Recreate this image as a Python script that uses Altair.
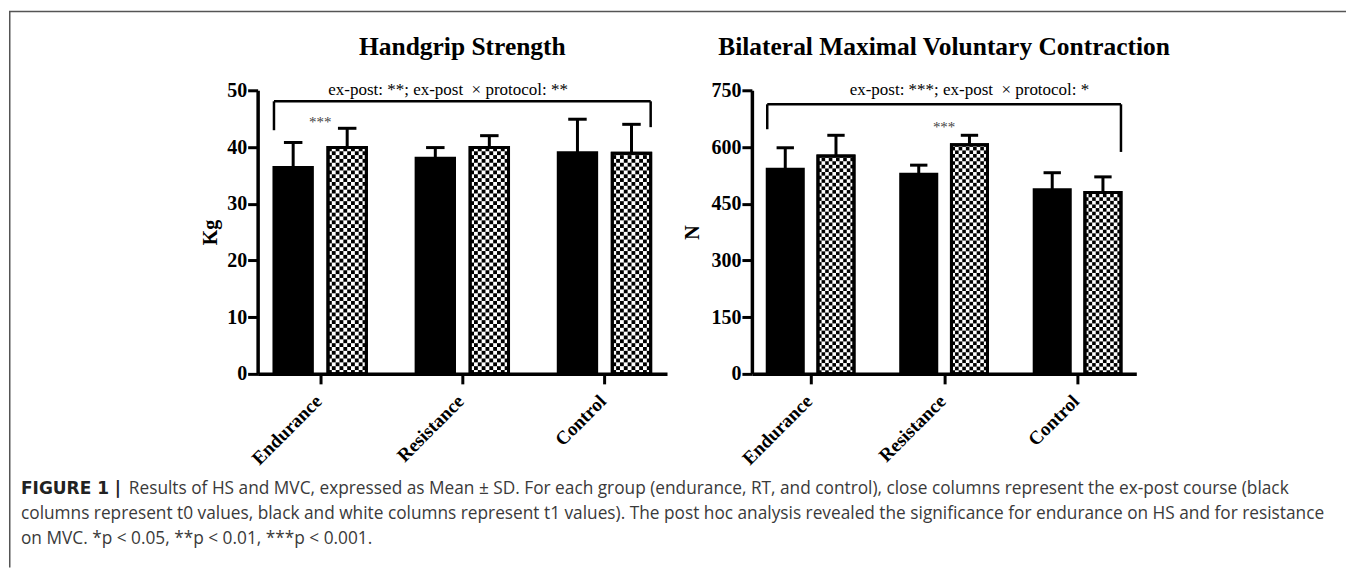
import json
import altair as alt
import pandas as pd

# ---------------- data ----------------
categories = ["Endurance", "Resistance", "Control"]
times = ["t0", "t1"]

hs_t0_mean = [36.4, 38.0, 39.0]
hs_t0_sd = [4.4, 1.9, 5.9]
hs_t1_mean = [39.9, 39.9, 38.9]
hs_t1_sd = [3.4, 2.1, 5.1]

mvc_t0_mean = [541, 528, 487]
mvc_t0_sd = [57, 24, 45]
mvc_t1_mean = [576, 606, 480]
mvc_t1_sd = [55, 25, 41]

hs_title = "Handgrip Strength"
mvc_title = "Bilateral Maximal Voluntary Contraction"
hs_ylabel = "Kg"
mvc_ylabel = "N"
hs_yticks = [0, 10, 20, 30, 40, 50]
mvc_yticks = [0, 150, 300, 450, 600, 750]

hs_note = "ex-post: **; ex-post\u00a0 \u00d7 protocol: **"
mvc_note = "ex-post: ***; ex-post\u00a0 \u00d7 protocol: *"
hs_note_pos = [0.9, 49.1]
mvc_note_pos = [1.19, 737]
# bracket: top level, left foot, right foot
hs_bracket = [48.06, 42.96, 43.5]
mvc_bracket = [713, 647, 587]
hs_star = ["***", "Endurance", 44.4]
mvc_star = ["***", "Resistance", 653]

caption_bold = "FIGURE 1 |"
caption_lines = [
    "Results of HS and MVC, expressed as Mean \u00b1 SD. For each group (endurance, RT, and control), close columns represent the ex-post course (black",
    "columns represent t0 values, black and white columns represent t1 values). The post hoc analysis revealed the significance for endurance on HS and for resistance",
    "on MVC. *p < 0.05, **p < 0.01, ***p < 0.001.",
]

# ---------------- layout / style ----------------
W, H = 1339, 560
XDOM = [-0.44, 2.44]
BAR_W = 0.27
OFF = 0.19
CAP = 0.065
NCOL = 10
SERIF = "Liberation Serif"
SANS = "Open Sans"


def make_df(t0m, t0s, t1m, t1s):
    rows = []
    for i, c in enumerate(categories):
        rows.append(dict(group=c, gi=i, time="t0", mean=t0m[i], sd=t0s[i]))
        rows.append(dict(group=c, gi=i, time="t1", mean=t1m[i], sd=t1s[i]))
    return pd.DataFrame(rows)


def panel(df, yticks, xr, yr, ytitle, tpad, note, note_pos, br, star, title, title_cx):
    ymax = yticks[-1]
    px_unit = (xr[1] - xr[0]) / (XDOM[1] - XDOM[0])
    cw = BAR_W / NCOL
    cell_h = cw * px_unit * ymax / (yr[0] - yr[1])
    xs = alt.Scale(domain=XDOM, range=xr, nice=False, zero=False)
    ys = alt.Scale(domain=[0, ymax], range=yr, nice=False)

    xaxis = alt.Axis(
        orient="bottom", offset=-(H - yr[0]), values=list(range(len(categories))),
        labelExpr=f"{json.dumps(categories)}[datum.value]", labelAngle=315,
        labelAlign="right", labelBaseline="middle", labelPadding=14, labelOffset=-2,
        labelFont=SERIF, labelFontWeight="bold", labelFontSize=19, labelColor="black",
        tickSize=10, tickWidth=3, tickColor="black", domainWidth=3.5, domainColor="black",
        grid=False, title=None,
    )
    yaxis = alt.Axis(
        orient="left", offset=-xr[0], values=yticks, labelFont=SERIF,
        labelFontWeight="bold", labelFontSize=20, labelColor="black", labelPadding=1,
        tickSize=10, tickWidth=3, tickColor="black", domainWidth=3.5, domainColor="black",
        grid=False, title=ytitle, titleFont=SERIF, titleFontWeight="bold", titleFontSize=20,
        titleColor="black", titlePadding=tpad,
    )

    def X(f):
        return alt.X(f, type="quantitative", scale=xs, axis=xaxis)

    def Y(f):
        return alt.Y(f, type="quantitative", scale=ys, axis=yaxis)

    base = alt.Chart(df).transform_calculate(
        xc=f"datum.gi + (datum.time == 't0' ? {-OFF} : {OFF})", zero="0"
    ).transform_calculate(
        xa=f"datum.xc - {BAR_W / 2}", xb=f"datum.xc + {BAR_W / 2}",
        top="datum.mean + datum.sd", ca=f"datum.xc - {CAP}", cb=f"datum.xc + {CAP}",
    )

    bars = base.mark_rect(stroke="black", strokeWidth=3).encode(
        x=X("xa"), x2="xb:Q", y=Y("mean"), y2="zero:Q",
        fill=alt.Fill("time:N", scale=alt.Scale(domain=times, range=["black", "white"]), legend=None),
    )
    cells = base.transform_filter("datum.time == 't1'").transform_calculate(
        rows=f"sequence(0, ceil(datum.mean / {cell_h}))"
    ).transform_flatten(["rows"]).transform_calculate(
        cols=f"sequence(0, {NCOL})"
    ).transform_flatten(["cols"]).transform_filter(
        "(datum.rows + datum.cols) % 2 == 0"
    ).transform_calculate(
        cx1=f"datum.xa + datum.cols * {cw}", cx2=f"datum.xa + (datum.cols + 1) * {cw}",
        cy1=f"datum.rows * {cell_h}", cy2=f"min((datum.rows + 1) * {cell_h}, datum.mean)",
    ).mark_rect(fill="black").encode(
        x=X("cx1"), x2="cx2:Q", y=Y("cy1"), y2="cy2:Q",
    )
    outline = base.transform_filter("datum.time == 't1'").mark_rect(
        fillOpacity=0, stroke="black", strokeWidth=3
    ).encode(x=X("xa"), x2="xb:Q", y=Y("mean"), y2="zero:Q")
    stems = base.mark_rule(color="black", strokeWidth=3).encode(
        x=X("xc"), y=Y("mean"), y2="top:Q",
    )
    caps = base.mark_rule(color="black", strokeWidth=3).encode(
        x=X("ca"), x2="cb:Q", y=Y("top"),
    )

    xl = -OFF - BAR_W / 2
    xrb = (len(categories) - 1) + OFF + BAR_W / 2
    bdf = pd.DataFrame(dict(
        x1=[xl, xl, xrb], x2=[xrb, xl, xrb],
        y1=[br[0], br[1], br[2]], y2=[br[0], br[0], br[0]],
    ))
    bracket = alt.Chart(bdf).mark_rule(color="black", strokeWidth=2.5).encode(
        x=X("x1"), x2="x2:Q", y=Y("y1"), y2="y2:Q",
    )
    ndf = pd.DataFrame(dict(t=[note], x=[note_pos[0]], y=[note_pos[1]]))
    note_t = alt.Chart(ndf).mark_text(
        font=SERIF, fontSize=17, color="black", align="center", baseline="alphabetic"
    ).encode(x=X("x"), y=Y("y"), text="t:N")
    sdf = pd.DataFrame(dict(t=[star[0]], x=[categories.index(star[1])], y=[star[2]]))
    star_t = alt.Chart(sdf).mark_text(
        font=SERIF, fontSize=15, color="#444444", align="center", baseline="middle"
    ).encode(x=X("x"), y=Y("y"), text="t:N")
    tdf = pd.DataFrame(dict(t=[title]))
    title_t = alt.Chart(tdf).mark_text(
        font=SERIF, fontSize=25.5, fontWeight="bold", color="black",
        align="center", baseline="alphabetic",
    ).encode(x=alt.value(title_cx), y=alt.value(47), text="t:N")

    return alt.layer(bars, cells, outline, stems, caps, bracket, note_t, star_t, title_t)


hs_df = make_df(hs_t0_mean, hs_t0_sd, hs_t1_mean, hs_t1_sd)
mvc_df = make_df(mvc_t0_mean, mvc_t0_sd, mvc_t1_mean, mvc_t1_sd)

left = panel(hs_df, hs_yticks, [249, 659], [366, 82], hs_ylabel, 6, hs_note, hs_note_pos,
             hs_bracket, hs_star, hs_title, 454)
right = panel(mvc_df, mvc_yticks, [744, 1129], [366, 82], mvc_ylabel, 8, mvc_note, mvc_note_pos,
              mvc_bracket, mvc_star, mvc_title, 936.5)

# caption
cap_bold = alt.Chart(pd.DataFrame(dict(t=[caption_bold]))).mark_text(
    font="DejaVu Sans", fontSize=17, fontWeight="bold", color="#222222", align="left",
    baseline="alphabetic"
).encode(x=alt.value(12), y=alt.value(486), text="t:N")
cap_df = pd.DataFrame(dict(t=caption_lines, x=[120, 12, 12], y=[486, 511, 536]))
cap_text = alt.Chart(cap_df).mark_text(
    font=SANS, fontSize=17.3, color="#3a3a3a", align="left", baseline="alphabetic"
).encode(x=alt.X("x:Q", scale=None), y=alt.Y("y:Q", scale=None), text="t:N")

# figure frame
frame_top = alt.Chart(pd.DataFrame(dict(a=[0]))).mark_rule(color="#555555", strokeWidth=1.5).encode(
    x=alt.value(0), x2=alt.value(W), y=alt.value(3)
)
frame_left = alt.Chart(pd.DataFrame(dict(a=[0]))).mark_rule(color="#555555", strokeWidth=1.5).encode(
    x=alt.value(0.75), y=alt.value(3), y2=alt.value(H)
)

chart = alt.layer(left, right, cap_bold, cap_text, frame_top, frame_left).resolve_scale(
    x="independent", y="independent", fill="shared"
).properties(width=W, height=H, padding=0, background="white").configure_view(stroke=None)

chart.save("out.html", embed_options={"renderer": "svg", "actions": False})
